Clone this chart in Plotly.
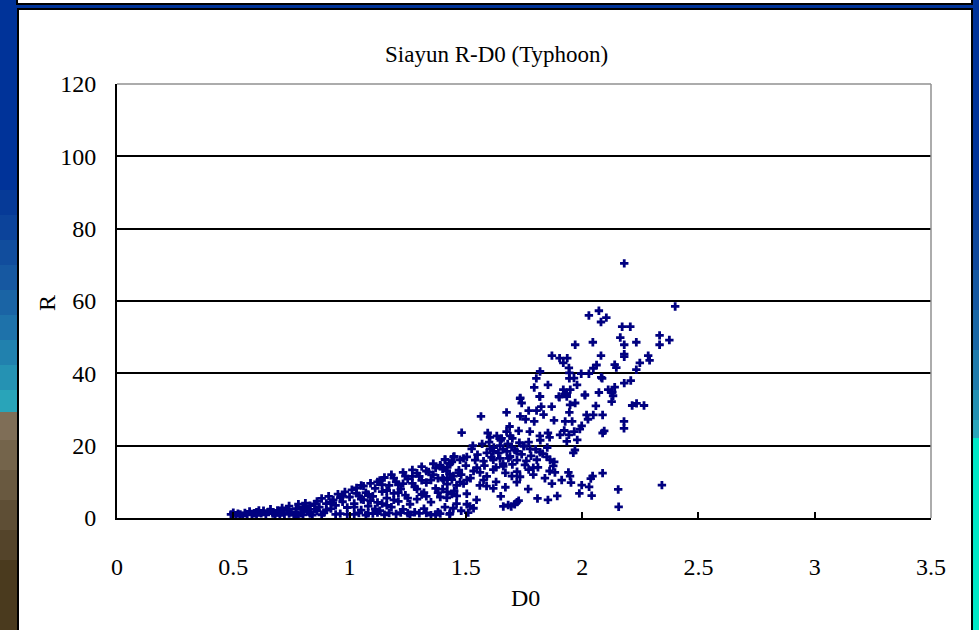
import plotly.graph_objects as go

# ---- data (D0, R) ----
d0_low = [0.49, 0.50, 0.51, 0.52, 0.53, 0.54, 0.55, 0.56, 0.57, 0.58, 0.59, 0.60, 0.60, 0.61, 0.62, 0.63,
          0.64, 0.65, 0.66, 0.67, 0.68, 0.69, 0.70, 0.70, 0.71, 0.72, 0.73, 0.74, 0.74, 0.75, 0.76, 0.77,
          0.77, 0.78, 0.78, 0.79, 0.80, 0.80, 0.81, 0.82, 0.82, 0.83, 0.83, 0.84, 0.85, 0.85, 0.86, 0.86,
          0.87, 0.88, 0.88, 0.89, 0.90, 0.90, 0.91, 0.92, 0.92, 0.93, 0.94, 0.94, 0.95, 0.96, 0.96, 0.97,
          0.97, 0.98, 0.99, 0.99, 1.00]
r_low = [1.0, 1.5, 0.8, 1.2, 1.0, 0.6, 1.4, 0.9, 1.8, 1.1, 1.3, 0.7, 1.6, 2.1, 1.3, 2.0,
         0.9, 1.7, 2.4, 1.2, 0.8, 2.1, 1.5, 0.7, 2.8, 1.0, 2.2, 3.3, 1.2, 1.6, 0.9, 2.6,
         1.0, 3.8, 1.0, 1.3, 2.9, 0.9, 4.1, 1.8, 2.6, 3.4, 1.2, 0.8, 2.4, 3.9, 4.6, 2.0,
         3.0, 5.4, 0.9, 1.5, 4.0, 2.2, 6.0, 2.6, 4.3, 5.0, 3.5, 1.0, 6.6, 1.2, 5.6, 4.5,
         6.0, 7.2, 2.9, 1.0, 5.8]

d0_mid = [1.01, 1.02, 1.02, 1.03, 1.03, 1.04, 1.04, 1.05, 1.05, 1.06, 1.06, 1.07, 1.07, 1.08, 1.08, 1.09,
          1.09, 1.10, 1.10, 1.11, 1.12, 1.12, 1.12, 1.13, 1.13, 1.14, 1.14, 1.15, 1.15, 1.16, 1.16, 1.17,
          1.17, 1.18, 1.18, 1.19, 1.19, 1.20, 1.20, 1.21, 1.21, 1.22, 1.22, 1.23, 1.23, 1.24, 1.24, 1.25,
          1.25, 1.26, 1.26, 1.27, 1.27, 1.28, 1.28, 1.29, 1.29, 1.30, 1.30, 1.31, 1.31, 1.32, 1.32, 1.33,
          1.33, 1.33, 1.34, 1.35, 1.35, 1.36, 1.36, 1.37, 1.37, 1.38, 1.38, 1.39, 1.39, 1.39, 1.40, 1.40,
          1.41, 1.41, 1.42, 1.42, 1.42, 1.43, 1.43, 1.44, 1.44, 1.44, 1.45, 1.45, 1.46, 1.47, 1.47, 1.48,
          1.49, 1.50, 1.51]
r_mid = [7.8, 1.0, 4.0, 8.3, 6.8, 6.2, 1.4, 2.2, 9.0, 5.0, 8.8, 0.8, 7.0, 3.3, 1.3, 9.6,
         4.8, 6.0, 1.2, 8.2, 4.3, 10.0, 1.5, 10.4, 2.0, 7.3, 9.2, 0.9, 11.2, 5.5, 7.6, 9.0,
         1.4, 3.0, 12.0, 6.8, 11.0, 1.1, 10.0, 4.6, 9.2, 8.0, 1.5, 12.6, 2.4, 6.3, 11.6, 10.8,
         1.3, 0.9, 3.8, 13.3, 9.6, 8.6, 1.6, 5.2, 12.4, 1.3, 11.5, 14.2, 10.4, 7.0, 2.6, 9.8,
         6.0, 1.4, 12.7, 4.4, 0.8, 15.0, 12.0, 8.2, 1.0, 11.0, 1.6, 5.8, 14.6, 1.2, 13.6, 8.0,
         16.2, 3.0, 9.4, 14.0, 11.0, 1.0, 12.2, 6.6, 10.6, 15.5, 17.0, 7.5, 4.0, 13.2, 12.5, 2.0,
         9.5, 14.5, 1.5]

d0_dense = [1.02, 1.05, 1.08, 1.11, 1.14, 1.16, 1.19, 1.21, 1.23, 1.25, 1.27, 1.29, 1.31, 1.33, 1.35,
            1.37, 1.38, 1.40, 1.42, 1.43, 1.46, 1.48, 1.49, 1.52, 1.53, 1.54, 1.55, 1.56, 1.57, 1.58,
            1.59, 1.60, 1.61, 1.62, 1.63, 1.63, 1.64, 1.65, 1.65, 1.66, 1.66, 1.67, 1.67, 1.68, 1.69,
            1.70, 1.70, 1.71, 1.72, 1.72, 1.73, 1.74, 1.75, 1.76, 1.77, 1.78, 1.79, 1.80, 1.81, 1.82,
            1.83, 1.84, 1.85, 1.86, 1.87, 1.88]
r_dense = [3.0, 5.2, 6.5, 2.5, 4.0, 3.5, 5.0, 7.0, 9.5, 5.5, 11.5, 8.0, 6.5, 13.0, 10.5,
           13.8, 7.0, 11.0, 7.2, 15.0, 9.0, 12.0, 16.5, 11.0, 20.0, 16.0, 17.5, 9.0, 20.5, 14.5,
           11.5, 21.0, 16.8, 19.5, 14.0, 10.0, 18.0, 21.5, 6.0, 15.0, 19.0, 12.5, 8.5, 20.5, 17.0,
           14.8, 22.0, 18.8, 16.0, 12.8, 20.8, 17.6, 19.8, 15.8, 21.0, 17.2, 12.0, 19.0, 14.0, 21.5,
           17.8, 11.0, 19.5, 13.0, 9.5, 15.5]

d0_high = [1.390, 1.404, 1.411, 1.418, 1.418, 1.432, 1.432, 1.446, 1.447, 1.447, 1.461, 1.475, 1.475, 1.482,
           1.504, 1.504, 1.504, 1.504, 1.518, 1.525, 1.533, 1.533, 1.546, 1.547, 1.561, 1.565, 1.576, 1.576,
           1.589, 1.590, 1.594, 1.604, 1.604, 1.618, 1.618, 1.618, 1.618, 1.633, 1.647, 1.647, 1.654, 1.661,
           1.661, 1.675, 1.675, 1.676, 1.682, 1.683, 1.688, 1.691, 1.695, 1.697, 1.698, 1.710, 1.719, 1.719,
           1.720, 1.727, 1.727, 1.733, 1.733, 1.734, 1.734, 1.740, 1.748, 1.754, 1.757, 1.768, 1.770, 1.770,
           1.775, 1.776, 1.790, 1.794, 1.794, 1.803, 1.804, 1.805, 1.808, 1.817, 1.818, 1.819, 1.819, 1.819,
           1.824, 1.834, 1.848, 1.853, 1.853, 1.853, 1.860, 1.862, 1.869, 1.870, 1.876, 1.879, 1.883, 1.893,
           1.900, 1.902, 1.903, 1.905, 1.912, 1.919, 1.919, 1.923, 1.927, 1.927, 1.934, 1.934, 1.934, 1.936,
           1.941, 1.943, 1.943, 1.945, 1.945, 1.945, 1.948, 1.948, 1.949, 1.952, 1.957, 1.962, 1.965, 1.966,
           1.969, 1.970, 1.970, 1.978, 1.979, 1.988, 1.990, 1.996, 1.998, 1.998, 2.012, 2.012, 2.019, 2.025,
           2.029, 2.029, 2.030, 2.037, 2.041, 2.045, 2.046, 2.048, 2.048, 2.059, 2.062, 2.072, 2.072, 2.081,
           2.081, 2.082, 2.086, 2.088, 2.088, 2.088, 2.095, 2.104, 2.112, 2.127, 2.127, 2.130, 2.133, 2.140,
           2.140, 2.147, 2.155, 2.157, 2.164, 2.172, 2.180, 2.180, 2.181, 2.181, 2.181, 2.181, 2.181, 2.207,
           2.209, 2.215, 2.233, 2.233, 2.234, 2.248, 2.266, 2.284, 2.290, 2.333, 2.333, 2.343, 2.375, 2.400]
r_high = [14.3, 10.5, 16.1, 5.6, 13.0, 1.3, 15.1, 2.7, 16.9, 11.6, 6.1, 16.1, 9.9, 23.6,
          6.7, 3.8, 16.9, 10.5, 3.2, 19.1, 2.7, 13.0, 5.0, 13.9, 12.6, 28.1, 15.7, 10.5,
          8.8, 18.0, 23.5, 22.3, 19.1, 8.2, 16.1, 18.4, 13.4, 22.7, 16.5, 20.0, 22.0, 3.2,
          14.3, 29.2, 23.9, 18.4, 3.6, 16.5, 25.3, 22.7, 3.2, 19.6, 11.6, 3.8, 18.4, 9.9,
          4.4, 24.1, 4.8, 33.0, 11.4, 33.2, 28.1, 31.8, 20.0, 14.7, 27.3, 8.0, 29.7, 13.4,
          23.9, 19.1, 13.9, 36.1, 26.7, 38.6, 29.7, 16.1, 5.4, 33.6, 22.7, 40.5, 33.6, 18.2,
          30.8, 28.6, 16.9, 36.8, 23.5, 5.0, 22.3, 16.1, 30.8, 44.9, 14.4, 27.0, 12.6, 6.1,
          33.6, 33.4, 44.2, 23.0, 10.5, 42.9, 35.5, 24.2, 34.3, 26.7, 33.6, 21.2, 34.4, 44.2,
          12.6, 41.5, 23.0, 40.1, 38.6, 29.2, 11.6, 31.3, 35.5, 9.8, 26.7, 18.0, 38.7, 23.9,
          18.8, 47.9, 31.8, 36.8, 21.6, 6.8, 24.6, 39.9, 25.5, 9.1, 34.1, 33.9, 28.5, 27.3,
          39.9, 56.0, 8.6, 10.9, 6.2, 11.6, 48.6, 41.4, 28.5, 31.0, 42.3, 57.3, 34.7, 54.2,
          44.9, 38.9, 38.6, 28.5, 23.5, 12.4, 24.1, 55.4, 35.5, 34.7, 32.2, 34.8, 33.8, 36.2,
          42.4, 41.6, 7.9, 3.1, 49.9, 52.9, 26.7, 24.8, 70.4, 47.9, 45.3, 44.6, 37.3, 52.9,
          38.0, 31.1, 48.6, 41.0, 31.7, 42.9, 31.1, 44.9, 43.6, 50.5, 47.9, 9.1, 49.2, 58.5]

D0 = d0_low + d0_mid + d0_dense + d0_high
R = r_low + r_mid + r_dense + r_high

x_ticks = [0, 0.5, 1, 1.5, 2, 2.5, 3, 3.5]
x_tick_text = ["0", "0.5", "1", "1.5", "2", "2.5", "3", "3.5"]
y_ticks = [0, 20, 40, 60, 80, 100, 120]

TITLE = "Siayun R-D0 (Typhoon)"
X_TITLE = "D0"
Y_TITLE = "R"

# ---- layout geometry (pixels) ----
W, H = 979, 630
ML, MR, MT, MB = 117, 48, 84, 112
PW = W - ML - MR
PH = H - MT - MB


def px(xp):
    return (xp - ML) / PW


def py(yp):
    return (H - MB - yp) / PH


FONT = "Liberation Serif"

fig = go.Figure()
fig.add_trace(go.Scatter(
    x=D0, y=R, mode="markers",
    marker=dict(symbol="cross", size=7, color="#000080", line=dict(width=0)),
    showlegend=False, hoverinfo="x+y",
))

shapes = []
# left slide background strip (stacked bands approximating gradient)
left_bands = [
    (0, 190, "#003399"), (190, 215, "#063a97"), (215, 240, "#0c439a"), (240, 265, "#114d9d"),
    (265, 290, "#1658a1"), (290, 315, "#1a64a5"), (315, 340, "#1e72aa"), (340, 365, "#2181ae"),
    (365, 390, "#2592b3"), (390, 412, "#29a4b9"),
    (412, 440, "#7f6e57"), (440, 470, "#74644b"), (470, 500, "#695940"),
    (500, 530, "#5e4e35"), (530, 560, "#54442a"), (560, 640, "#4a3a1e"),
]
for y0, y1, c in left_bands:
    shapes.append(dict(type="rect", xref="paper", yref="paper", x0=px(-5), x1=px(18),
                       y0=py(y1), y1=py(y0), fillcolor=c, line=dict(width=0), layer="below"))
right_bands = [
    (0, 190, "#003399"), (190, 230, "#083c97"), (230, 270, "#10499c"), (270, 310, "#1658a1"),
    (310, 350, "#1b68a6"), (350, 390, "#207bac"), (390, 420, "#2490b3"),
    (420, 438, "#2aa6bb"), (438, 640, "#00e8c8"),
]
for y0, y1, c in right_bands:
    shapes.append(dict(type="rect", xref="paper", yref="paper", x0=px(972), x1=px(985),
                       y0=py(y1), y1=py(y0), fillcolor=c, line=dict(width=0), layer="below"))
# top strip of a previous box
shapes.append(dict(type="rect", xref="paper", yref="paper", x0=px(17), x1=px(972),
                   y0=py(4), y1=py(-10), fillcolor="white", line=dict(color="black", width=2),
                   layer="below"))
# chart box
shapes.append(dict(type="rect", xref="paper", yref="paper", x0=px(18), x1=px(972),
                   y0=py(645), y1=py(9), fillcolor="white", line=dict(color="black", width=2),
                   layer="below"))
# gray top / right plot border
shapes.append(dict(type="line", xref="paper", yref="paper", x0=0, x1=1, y0=1, y1=1,
                   line=dict(color="#909090", width=1.5), layer="above"))
shapes.append(dict(type="line", xref="paper", yref="paper", x0=1, x1=1, y0=0, y1=1,
                   line=dict(color="#909090", width=1.5), layer="above"))

annotations = [
    dict(text=TITLE, xref="paper", yref="paper", x=px(496), y=py(55), showarrow=False,
         xanchor="center", yanchor="middle", font=dict(family=FONT, size=23, color="black")),
    dict(text=X_TITLE, xref="paper", yref="paper", x=px(525), y=py(598), showarrow=False,
         xanchor="center", yanchor="middle", font=dict(family=FONT, size=24, color="black")),
    dict(text=Y_TITLE, xref="paper", yref="paper", x=px(47), y=py(303), showarrow=False,
         textangle=-90, xanchor="center", yanchor="middle",
         font=dict(family=FONT, size=24, color="black")),
]

fig.update_layout(
    width=W, height=H,
    margin=dict(l=ML, r=MR, t=MT, b=MB, pad=0),
    paper_bgcolor="#003399",
    plot_bgcolor="white",
    font=dict(family=FONT, size=24, color="black"),
    shapes=shapes,
    annotations=annotations,
    xaxis=dict(range=[0, 3.5], tickvals=x_ticks, ticktext=x_tick_text,
               showgrid=False, zeroline=False, showline=True, linecolor="black", linewidth=2,
               ticks="inside", ticklen=6, tickwidth=2, tickcolor="black",
               ticklabelstandoff=26, tickfont=dict(family=FONT, size=24, color="black"),
               fixedrange=True),
    yaxis=dict(range=[0, 120], tickvals=y_ticks,
               showgrid=True, gridcolor="black", gridwidth=1.8, zeroline=False,
               showline=True, linecolor="black", linewidth=2,
               ticks="inside", ticklen=5, tickwidth=2, tickcolor="black",
               ticklabelstandoff=14, tickfont=dict(family=FONT, size=24, color="black"),
               fixedrange=True),
)

fig.write_html("out.html")
